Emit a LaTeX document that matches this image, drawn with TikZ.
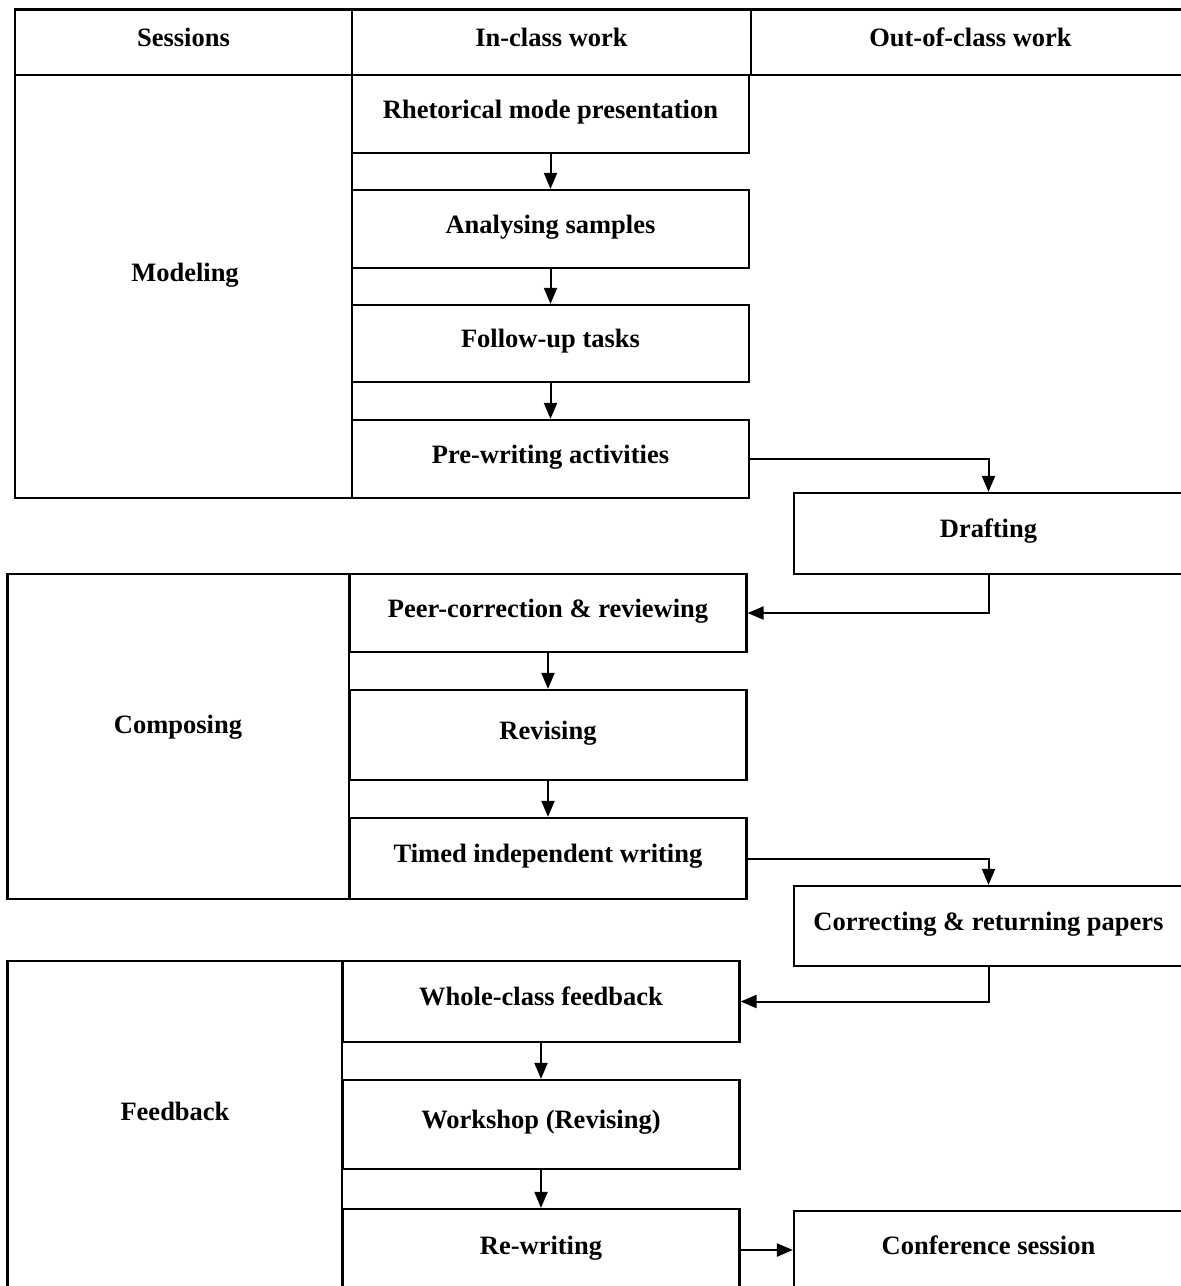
\documentclass[tikz,border=0pt]{standalone}
\usepackage{fontspec}
\setmainfont{Liberation Serif}
\usetikzlibrary{arrows.meta}
\usetikzlibrary{positioning}
\tikzset{cell/.style = {draw, line width=2.2pt, inner sep=0pt,
                        font=\fontsize{26.5}{30}\selectfont\bfseries,
                        text height=1.1em, text depth=0.3em}}
\tikzset{stepbox/.style = {cell, minimum width=397pt}}
\tikzset{outbox/.style = {cell, minimum width=389pt}}
\tikzset{sessname/.style = {inner sep=0pt, font=\fontsize{26.5}{30}\selectfont\bfseries}}
\tikzset{flow/.style = {line width=2pt, -{Triangle[length=16pt, width=13pt]}}}

\begin{document}
\begin{tikzpicture}[x=1pt, y=-1pt]
    \useasboundingbox (0, 0) rectangle (1181, 1286);
    \clip (0, 0) rectangle (1181, 1286);

    % header row
    \node [cell, minimum width=337pt, minimum height=65.5pt] (hsess) at (183.5, 42.25) {Sessions};
    \node [cell, minimum width=399pt, minimum height=65.5pt] (hin) at (551.5, 42.25) {In-class work};
    \node [cell, minimum width=439pt, minimum height=65.5pt] (hout) at (970.5, 42.25) {Out-of-class work};

    % sessions
    \node [cell, minimum width=337pt, minimum height=423pt] (modbox) at (183.5, 286.5) {};
    \node [sessname] (modeling) at (185, 275) {Modeling};
    \node [cell, minimum width=341.5pt, minimum height=325pt] (compbox) at (178.25, 736.5) {};
    \node [sessname] (composing) at (178, 727) {Composing};
    \node [cell, minimum width=334.5pt, minimum height=339pt] (feedbox) at (174.75, 1130.5) {};
    \node [sessname] (feedback) at (175, 1111) {Feedback};

    % in-class work
    \node [stepbox, minimum height=78pt] (rhet) at (550.5, 114) {Rhetorical mode presentation};
    \node [stepbox, minimum height=78pt] (anal) at (550.5, 229) {Analysing samples};
    \node [stepbox, minimum height=77pt] (follow) at (550.5, 343.5) {Follow-up tasks};
    \node [stepbox, minimum height=78pt] (prew) at (550.5, 459) {Pre-writing activities};

    \node [stepbox, minimum height=78pt] (peer) at (548, 613) {Peer-correction \& reviewing};
    \node [stepbox, minimum height=90pt] (revise) at (548, 735) {Revising};
    \node [stepbox, minimum height=81pt] (timed) at (548, 858.5) {Timed independent writing};

    \node [stepbox, minimum height=81pt] (whole) at (541, 1001.5) {Whole-class feedback};
    \node [stepbox, minimum height=89pt] (workshop) at (541, 1124.5) {Workshop (Revising)};
    \node [stepbox, minimum height=82pt] (rewrite) at (541, 1250) {Re-writing};

    % out-of-class work
    \node [outbox, minimum height=81pt] (draft) at (988.5, 533.5) {Drafting};
    \node [outbox, minimum height=80pt] (correct) at (988.5, 926) {Correcting \& returning papers};
    \node [outbox, minimum height=78pt] (confer) at (988.5, 1250) {Conference session};

    \draw [flow] (rhet) -- (anal);
    \draw [flow] (anal) -- (follow);
    \draw [flow] (follow) -- (prew);
    \draw [flow] (prew.east) -| (draft.north);
    \draw [flow] (draft.south) |- (peer.east);
    \draw [flow] (peer) -- (revise);
    \draw [flow] (revise) -- (timed);
    \draw [flow] (timed.east) -| (correct.north);
    \draw [flow] (correct.south) |- (whole.east);
    \draw [flow] (whole) -- (workshop);
    \draw [flow] (workshop) -- (rewrite);
    \draw [flow] (rewrite) -- (confer);
  \end{tikzpicture}
\end{document}
